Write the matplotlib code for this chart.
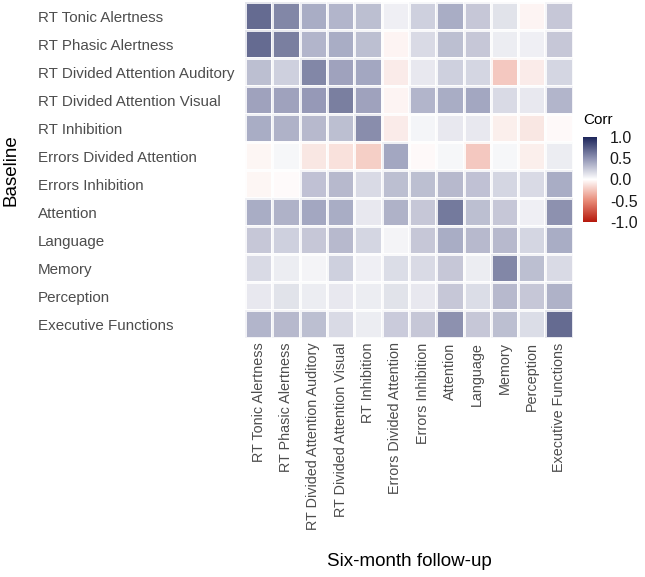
import numpy as np
import matplotlib.pyplot as plt
from matplotlib.colors import LinearSegmentedColormap

plt.rcParams['font.family'] = ['Liberation Sans', 'DejaVu Sans']

# ==========================================
# DATA
# ==========================================
measures = [
    "RT Tonic Alertness", "RT Phasic Alertness", "RT Divided Attention Auditory",
    "RT Divided Attention Visual", "RT Inhibition", "Errors Divided Attention",
    "Errors Inhibition", "Attention", "Language", "Memory", "Perception",
    "Executive Functions",
]

# rows = baseline, columns = six-month follow-up
corr_rows = [
    [0.80, 0.65, 0.45, 0.40, 0.35, 0.08, 0.25, 0.45, 0.30, 0.15, -0.05, 0.30],
    [0.80, 0.70, 0.40, 0.45, 0.35, -0.05, 0.20, 0.35, 0.30, 0.10, 0.08, 0.30],
    [0.35, 0.25, 0.65, 0.50, 0.48, -0.10, 0.12, 0.25, 0.22, -0.28, -0.10, 0.22],
    [0.50, 0.50, 0.55, 0.70, 0.50, -0.05, 0.40, 0.45, 0.48, 0.20, 0.12, 0.40],
    [0.45, 0.42, 0.38, 0.35, 0.62, -0.10, 0.05, 0.12, 0.12, -0.08, -0.12, -0.03],
    [-0.04, 0.04, -0.12, -0.15, -0.25, 0.48, -0.03, 0.04, -0.28, 0.04, -0.08, 0.10],
    [-0.04, -0.02, 0.33, 0.38, 0.20, 0.35, 0.35, 0.38, 0.33, 0.22, 0.20, 0.45],
    [0.45, 0.42, 0.48, 0.45, 0.12, 0.42, 0.30, 0.72, 0.35, 0.30, 0.08, 0.60],
    [0.30, 0.25, 0.30, 0.38, 0.22, 0.06, 0.30, 0.45, 0.38, 0.38, 0.22, 0.45],
    [0.20, 0.10, 0.06, 0.25, 0.08, 0.18, 0.20, 0.30, 0.10, 0.65, 0.35, 0.20],
    [0.12, 0.15, 0.10, 0.12, 0.10, 0.15, 0.12, 0.30, 0.18, 0.38, 0.30, 0.42],
    [0.40, 0.38, 0.35, 0.20, 0.10, 0.28, 0.30, 0.60, 0.30, 0.35, 0.18, 0.80],
]

# ==========================================
# PLOT
# ==========================================
corr = np.array(corr_rows)
cmap = LinearSegmentedColormap.from_list(
    "corr", ["#B5180C", "#E88B78", "#FFFFFF", "#8E92B2", "#1B2459"])

fig = plt.figure(figsize=(6.45, 5.77), dpi=100)
ax = fig.add_axes([0.380, 0.414, 0.508, 0.582])

mesh = ax.pcolormesh(corr, cmap=cmap, vmin=-1, vmax=1,
                     edgecolors="white", linewidth=0.8, alpha=0.84)
ax.set_xlim(0, len(measures))
ax.set_ylim(len(measures), 0)

ax.set_xticks(np.arange(len(measures)) + 0.5)
ax.set_yticks(np.arange(len(measures)) + 0.5)
ax.set_xticklabels(measures, rotation=90, fontsize=10.4, color="#4D4D4D")
ax.set_yticklabels(measures, fontsize=10.9, color="#4D4D4D", ha="left")
ax.tick_params(axis="x", length=0, pad=3)
ax.tick_params(axis="y", length=0, pad=149)
for s in ax.spines.values():
    s.set_visible(False)

fig.text(0.634, 0.026, "Six-month follow-up", fontsize=13.5, ha="center", va="center")
fig.text(0.017, 0.705, "Baseline", fontsize=13.5, rotation=90, va="center", ha="center")

cax = fig.add_axes([0.904, 0.615, 0.022, 0.148])
cb = fig.colorbar(mesh, cax=cax, ticks=[-1, -0.5, 0, 0.5, 1])
cb.ax.set_yticklabels(["-1.0", "-0.5", "0.0", "0.5", "1.0"], fontsize=11.5, color="#1A1A1A")
cb.outline.set_visible(False)
cb.ax.tick_params(length=3, color="white", pad=6)
cb.solids.set_alpha(1)
fig.text(0.904, 0.785, "Corr", fontsize=11)

fig.savefig("out.png", dpi=100)
